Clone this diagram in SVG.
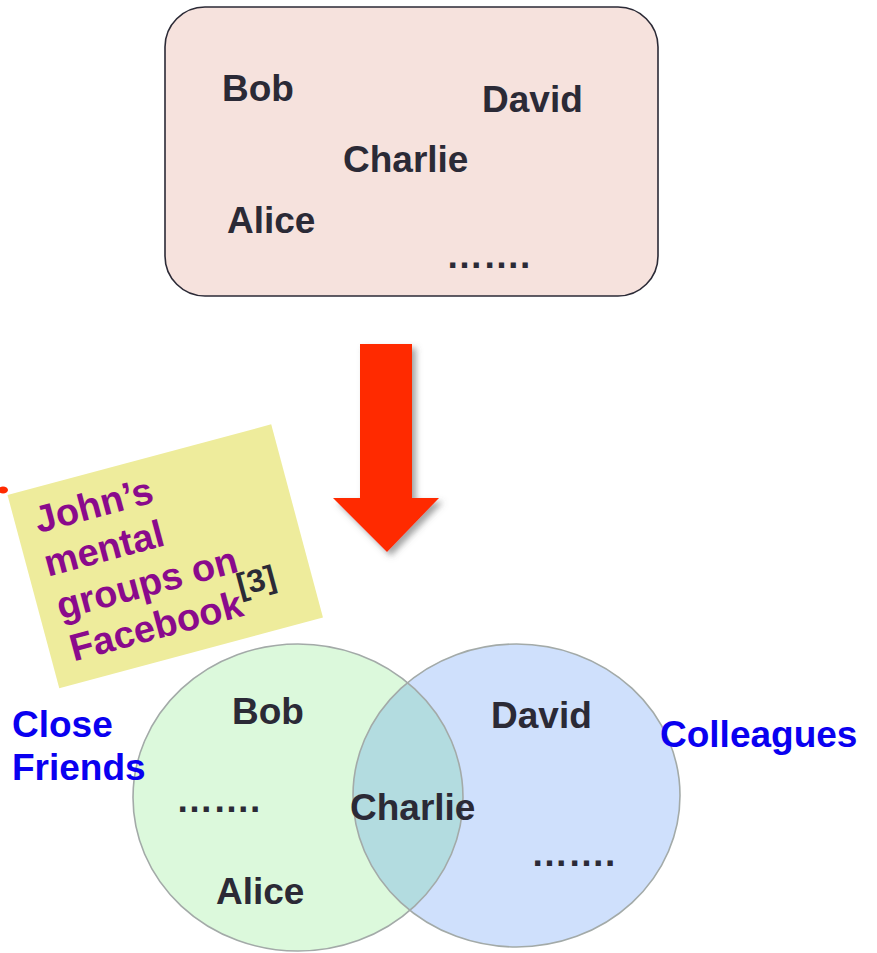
<svg xmlns="http://www.w3.org/2000/svg" width="877" height="953" viewBox="0 0 877 953">
  <style>
    .name { font-family: "Liberation Sans", Arial, sans-serif; font-weight: bold; font-size: 37px; fill: #2b2a36; }
    .group-label { font-family: "Liberation Sans", Arial, sans-serif; font-weight: bold; font-size: 37px; fill: #0a00f0; }
    .note-text { font-family: "Liberation Sans", Arial, sans-serif; font-weight: bold; font-size: 38px; fill: #8a0a8c; }
    .ring { fill: none; stroke: #a3aaa8; stroke-width: 1.6; }
  </style>
  <defs>
    <filter id="soft-shadow" x="-20%" y="-20%" width="150%" height="150%">
      <feDropShadow dx="4" dy="4" stdDeviation="3" flood-color="#555" flood-opacity="0.55"/>
    </filter>
    <clipPath id="left-set-clip">
      <ellipse cx="298" cy="797.5" rx="165" ry="153.5"/>
    </clipPath>
  </defs>

  <rect width="877" height="953" fill="#ffffff"/>

  <!-- Flat list of contacts -->
  <g id="contacts-box">
    <rect x="165" y="7" width="493" height="289" rx="40" ry="40" fill="#f6e2dd" stroke="#2b2a36" stroke-width="1.6"/>
    <text class="name" x="222" y="101">Bob</text>
    <text class="name" x="482" y="112">David</text>
    <text class="name" x="343" y="172">Charlie</text>
    <text class="name" x="227" y="233">Alice</text>
    <text class="name" x="446" y="268">…….</text>
  </g>

  <!-- Transformation arrow -->
  <g id="connectors">
    <polygon points="360,344 412,344 412,498 439,498 387,552 333,498 360,498" fill="#ff2a00" filter="url(#soft-shadow)"/>
  </g>

  <!-- Sticky note -->
  <g id="note">
    <ellipse cx="3" cy="490" rx="5" ry="3.5" fill="#ff2a00"/>
    <g transform="translate(7.5,495) rotate(-15)">
      <rect x="0" y="0" width="273" height="200" fill="#eeec9c"/>
      <text class="note-text" x="20" y="45">John’s</text>
      <text class="note-text" x="18" y="89.5">mental</text>
      <text class="note-text" x="19" y="134">groups on</text>
      <text class="note-text" x="21" y="178">Facebook<tspan fill="#2b2a36" font-size="32" dy="-20">[3]</tspan></text>
    </g>
  </g>

  <!-- Venn diagram of the two groups -->
  <g id="close-friends">
    <ellipse cx="298" cy="797.5" rx="165" ry="153.5" fill="#dcf9dc"/>
  </g>
  <g id="colleagues">
    <ellipse cx="516.5" cy="795.5" rx="163.5" ry="151.5" fill="#cfe0fc"/>
  </g>
  <g id="overlap">
    <ellipse cx="516.5" cy="795.5" rx="163.5" ry="151.5" fill="#b3dce0" clip-path="url(#left-set-clip)"/>
  </g>
  <g id="venn-outlines">
    <ellipse class="ring" cx="298" cy="797.5" rx="165" ry="153.5"/>
    <ellipse class="ring" cx="516.5" cy="795.5" rx="163.5" ry="151.5"/>
  </g>

  <g id="venn-members">
    <text class="name" x="232" y="724">Bob</text>
    <text class="name" x="176" y="812">…….</text>
    <text class="name" x="216" y="904">Alice</text>
    <text class="name" x="350" y="820">Charlie</text>
    <text class="name" x="491" y="728">David</text>
    <text class="name" x="531" y="866">…….</text>
  </g>

  <g id="group-labels">
    <text class="group-label" x="12" y="737">Close</text>
    <text class="group-label" x="12" y="780">Friends</text>
    <text class="group-label" x="660" y="747">Colleagues</text>
  </g>
</svg>
